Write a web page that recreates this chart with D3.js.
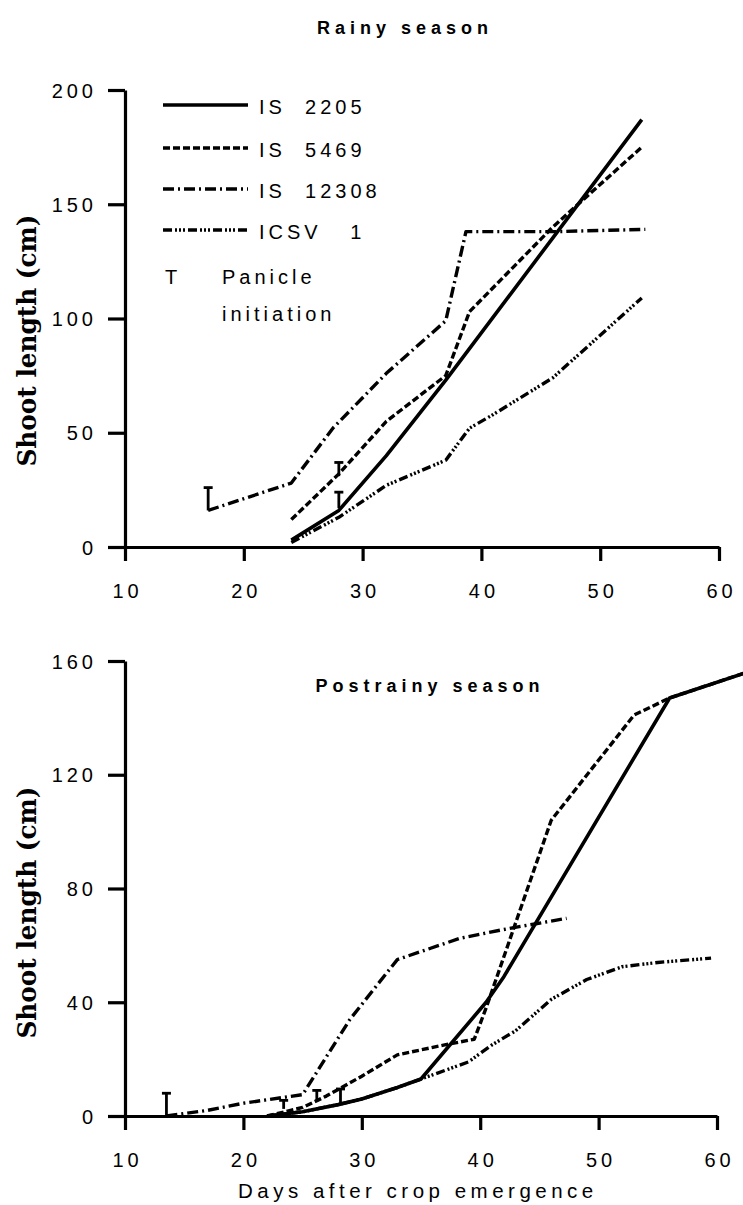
<!DOCTYPE html>
<html>
<head>
<meta charset="utf-8">
<script src="https://cdn.jsdelivr.net/npm/d3@7"></script>
<style>
  html, body { margin: 0; padding: 0; background: #fff; }
  svg { display: block; }
  .tick text { font-family: "Liberation Sans", Arial, sans-serif; font-size: 20px; letter-spacing: 4px; fill: #000; }
  .lbl { font-family: "Liberation Sans", Arial, sans-serif; font-size: 20px; letter-spacing: 4px; fill: #000; white-space: pre; }
</style>
</head>
<body>
<svg id="chart" width="743" height="1205"></svg>
<script>
// Shoot length (cm) by days after crop emergence, four sorghum genotypes.
const genotypes = ["IS  2205", "IS  5469", "IS  12308", "ICSV   1"];

// Rainy season
const rainyIS2205  = [[24, 3], [28, 16], [32, 40], [37, 73], [53.5, 187]];
const rainyIS5469  = [[24, 12], [28, 32], [32, 55], [37, 75], [39, 103], [46, 140], [53.5, 175]];
const rainyIS12308 = [[17, 16], [24, 28], [27.5, 52], [32, 76], [37, 99], [38.7, 138], [46, 138], [53.8, 139]];
const rainyICSV1   = [[24, 2], [28, 13], [32, 27], [37, 38], [39, 52], [41, 58], [46, 74], [53.5, 109]];
// Panicle initiation: [day, shoot length at mark base, mark height]
const rainyPanicle = [[17, 16, 10], [28, 31, 6], [28, 17, 7]];

// Postrainy season
const postIS2205  = [[22, 0], [25, 1.5], [28, 4], [30, 6], [33, 10], [35, 13], [40.5, 40], [42, 49], [56, 147], [62.5, 156]];
const postIS5469  = [[22, 0], [25, 3], [27, 7], [30, 14], [33, 21.5], [37, 25], [39.5, 27], [40.5, 38], [46, 104], [53, 141], [56, 147], [62.5, 156]];
const postIS12308 = [[13.5, 0], [17, 2], [20, 4.5], [25, 7.5], [29, 34], [33, 55], [38.3, 62.5], [42.5, 66], [47.3, 69.5]];
const postICSV1   = [[22, 0], [25, 1.5], [28, 4], [30, 6], [33, 10], [35, 13], [37, 16], [39, 19], [41, 25], [43, 30], [46, 41], [49, 48], [52, 52.5], [55, 54], [59.5, 55.5]];
const postPanicle = [[13.5, 0, 8], [23.4, 2.5, 3], [26.2, 5, 4], [28.2, 4.5, 5]];

const dayTicks   = [10, 20, 30, 40, 50, 60];
const rainyTicks = [0, 50, 100, 150, 200];
const postTicks  = [0, 40, 80, 120, 160];

// One dash pattern per genotype, in legend order
const dashes = ["none", "7,3", "11,4,2,4", "9,3,2,2,2,2,2,3"];

const svg = d3.select("#chart");

function panel(opts) {
  const { x, y, yTicks, series, panicle, title } = opts;
  const g = svg.append("g");

  const line = d3.line().x(d => x(d[0])).y(d => y(d[1]));

  series.forEach((s, i) => {
    g.append("path")
      .datum(s)
      .attr("d", line)
      .attr("fill", "none")
      .attr("stroke", "#000")
      .attr("stroke-width", i === 0 ? 3.6 : 3.4)
      .attr("stroke-linejoin", "round")
      .attr("stroke-dasharray", dashes[i]);
  });

  // Panicle initiation marks
  panicle.forEach(p => {
    const px = x(p[0]), y0 = y(p[1]), y1 = y(p[1] + p[2]);
    g.append("line").attr("x1", px).attr("x2", px).attr("y1", y0).attr("y2", y1)
      .attr("stroke", "#000").attr("stroke-width", 2.8);
    g.append("line").attr("x1", px - 4.5).attr("x2", px + 4.5).attr("y1", y1).attr("y2", y1)
      .attr("stroke", "#000").attr("stroke-width", 2.8);
  });

  const xAxis = g.append("g")
    .attr("transform", `translate(0,${y(0)})`)
    .call(d3.axisBottom(x).tickValues(dayTicks).tickSize(14).tickSizeOuter(0).tickPadding(23));
  const yAxis = g.append("g")
    .attr("transform", `translate(${x(10)},0)`)
    .call(d3.axisLeft(y).tickValues(yTicks).tickSize(17).tickSizeOuter(0).tickPadding(11));

  [xAxis, yAxis].forEach(a => {
    a.select(".domain").attr("stroke", "#000").attr("stroke-width", 3.2);
    a.selectAll(".tick line").attr("stroke", "#000").attr("stroke-width", 3.2);
  });
  yAxis.selectAll(".tick text").attr("dy", "0.36em");
  xAxis.selectAll(".tick text").attr("dx", "2px");

  // Vertical axis title
  const yMid = (y.range()[0] + y.range()[1]) / 2 + opts.labelShift;
  g.append("text")
    .attr("transform", `translate(36,${yMid}) rotate(-90)`)
    .attr("text-anchor", "middle")
    .attr("font-family", "'DejaVu Serif', serif")
    .attr("font-weight", "bold")
    .attr("font-size", 26)
    .attr("textLength", 252)
    .attr("lengthAdjust", "spacingAndGlyphs")
    .text("Shoot length (cm)");

  g.append("text")
    .attr("x", title.x).attr("y", title.y)
    .attr("text-anchor", "middle")
    .attr("font-family", "'Liberation Sans', Arial, sans-serif")
    .attr("font-weight", "bold")
    .attr("font-size", 18)
    .attr("letter-spacing", "5px")
    .text(title.text);

  return g;
}

const xRainy = d3.scaleLinear().domain([10, 60]).range([125, 719]);
const yRainy = d3.scaleLinear().domain([0, 200]).range([547, 90]);
const xPost  = d3.scaleLinear().domain([10, 60]).range([125, 717]);
const yPost  = d3.scaleLinear().domain([0, 160]).range([1116, 661]);

const rainyPanel = panel({
  x: xRainy, y: yRainy, yTicks: rainyTicks,
  series: [rainyIS2205, rainyIS5469, rainyIS12308, rainyICSV1],
  panicle: rainyPanicle,
  title: { text: "Rainy season", x: 405, y: 34 },
  labelShift: 22
});

panel({
  x: xPost, y: yPost, yTicks: postTicks,
  series: [postIS2205, postIS5469, postIS12308, postICSV1],
  panicle: postPanicle,
  title: { text: "Postrainy season", x: 430, y: 692 },
  labelShift: 24
});

// Legend (rainy panel)
const legend = rainyPanel.append("g");
const legendY = [105, 148, 189, 230];
genotypes.forEach((name, i) => {
  legend.append("line")
    .attr("x1", 163).attr("x2", 248).attr("y1", legendY[i]).attr("y2", legendY[i])
    .attr("stroke", "#000").attr("stroke-width", 3.6)
    .attr("stroke-dasharray", dashes[i]);
  legend.append("text")
    .attr("class", "lbl")
    .attr("x", 259).attr("y", legendY[i] + 9)
    .text(name);
});
legend.append("text").attr("class", "lbl").attr("x", 165).attr("y", 284).text("T");
legend.append("text").attr("class", "lbl").attr("x", 222).attr("y", 284).text("Panicle");
legend.append("text").attr("class", "lbl").attr("x", 222).attr("y", 321).text("initiation");

// Shared horizontal axis title
svg.append("text")
  .attr("class", "lbl")
  .attr("x", 238).attr("y", 1198)
  .style("font-size", "20.5px")
  .style("letter-spacing", "4.5px")
  .text("Days after crop emergence");
</script>
</body>
</html>
